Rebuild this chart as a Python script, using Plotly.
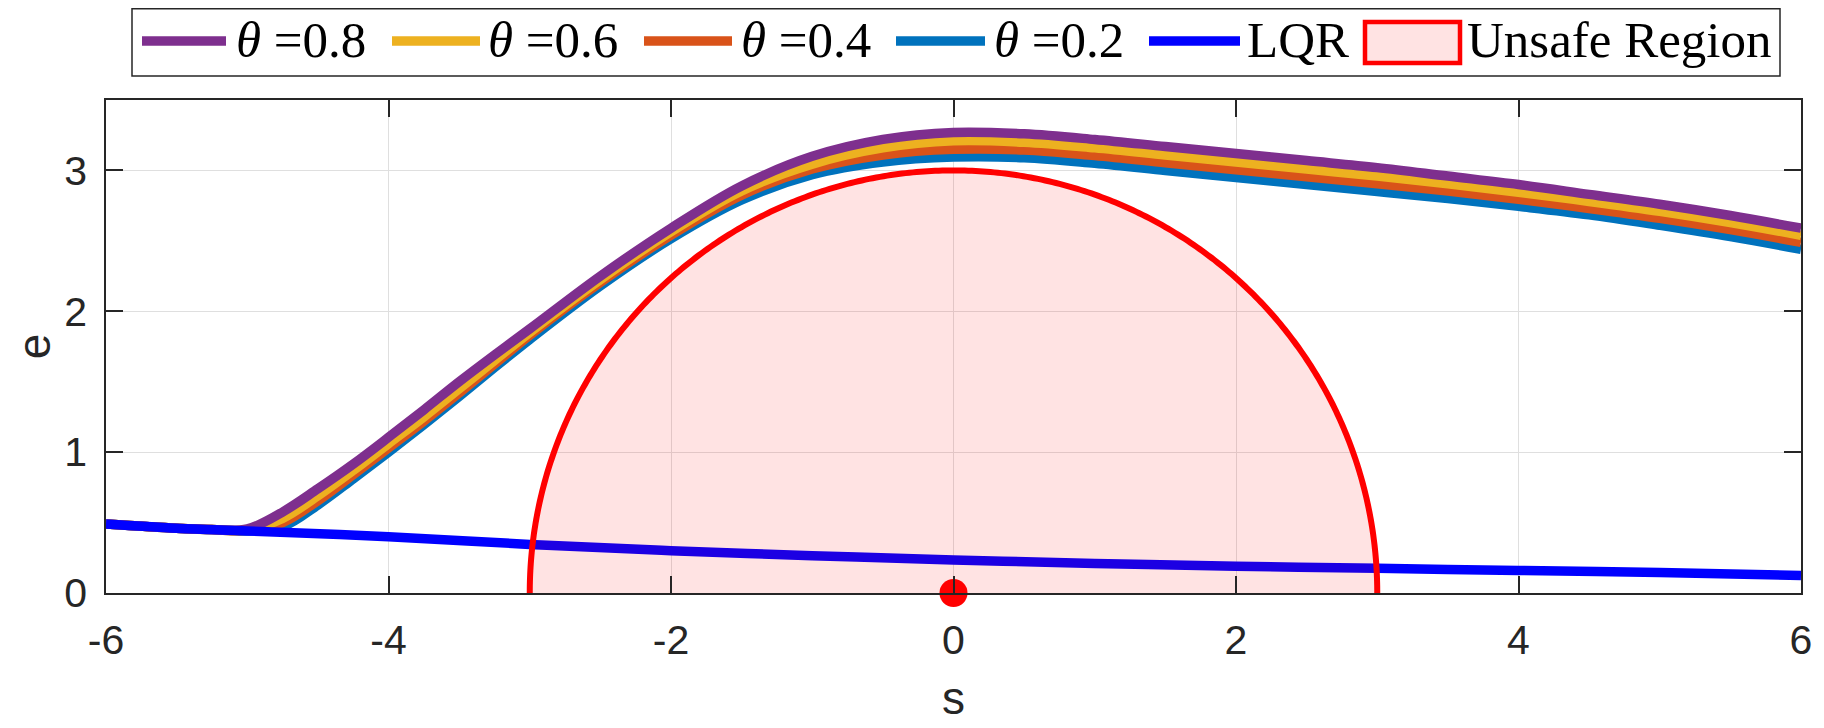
import numpy as np
import plotly.graph_objects as go

# ---------------- data ----------------
s_vals = [-6.0, -5.5, -5.25, -5.0, -4.75, -4.5, -4.25, -4.0, -3.75, -3.5, -3.25, -3.0,
          -2.5, -2.0, -1.5, -1.0, -0.5, 0.0, 0.5, 1.0, 1.5, 2.0, 2.5, 3.0, 3.5, 4.0,
          4.5, 5.0, 5.5, 6.0]

e_theta_08 = [0.49, 0.46, 0.45, 0.455, 0.575, 0.74, 0.915, 1.105, 1.30, 1.50, 1.69, 1.875,
              2.25, 2.59, 2.89, 3.10, 3.22, 3.27, 3.26, 3.22, 3.17, 3.12, 3.07, 3.02, 2.96, 2.90,
              2.83, 2.76, 2.68, 2.59]
e_theta_06 = [0.49, 0.46, 0.45, 0.45, 0.53, 0.69, 0.87, 1.06, 1.25, 1.45, 1.65, 1.85,
              2.225, 2.565, 2.855, 3.045, 3.16, 3.21, 3.20, 3.16, 3.11, 3.06, 3.01, 2.96, 2.905, 2.845,
              2.78, 2.71, 2.63, 2.54]
e_theta_04 = [0.49, 0.46, 0.45, 0.445, 0.50, 0.655, 0.84, 1.03, 1.22, 1.42, 1.625, 1.83,
              2.205, 2.54, 2.825, 3.01, 3.11, 3.15, 3.145, 3.105, 3.055, 3.005, 2.955, 2.905, 2.853, 2.795,
              2.73, 2.66, 2.58, 2.49]
e_theta_02 = [0.49, 0.46, 0.45, 0.44, 0.47, 0.625, 0.81, 1.00, 1.195, 1.395, 1.60, 1.80,
              2.18, 2.515, 2.79, 2.97, 3.06, 3.095, 3.09, 3.05, 3.00, 2.95, 2.90, 2.85, 2.80, 2.745,
              2.685, 2.61, 2.53, 2.44]

s_lqr = [-6, -5.5, -5, -4, -3, -2, -1, 0, 1, 2, 3, 4, 5, 6]
e_lqr = [0.49, 0.46, 0.44, 0.40, 0.345, 0.30, 0.265, 0.235, 0.21, 0.19, 0.175, 0.16, 0.145, 0.125]

unsafe_center = 0.0
unsafe_radius = 3.0
target_s = [0.0]
target_e = [0.0]

x_tick_vals = [-6, -4, -2, 0, 2, 4, 6]
x_tick_text = ["-6", "-4", "-2", "0", "2", "4", "6"]
y_tick_vals = [0, 1, 2, 3]
y_tick_text = ["0", "1", "2", "3"]

theta_names = ["0.8", "0.6", "0.4", "0.2"]
theta_colors = ["#7E2F8E", "#EDB120", "#D95319", "#0072BD"]
theta_series = [e_theta_08, e_theta_06, e_theta_04, e_theta_02]
lqr_color = "#0000FF"
unsafe_color = "#FF0000"
unsafe_fill = "rgba(255,0,0,0.11)"

# ---------------- geometry (figure pixels) ----------------
W, H = 1808, 716
ML, MR, MT, MB = 98, 15, 92, 131
PW, PH = W - ML - MR, H - MT - MB


def pxx(fx):
    return (fx - ML) / PW


def pxy(fy):
    return (H - MB - fy) / PH


# ---------------- figure ----------------
fig = go.Figure()

# draw 0.2 first so that 0.8 ends on top
for name, col, ys in reversed(list(zip(theta_names, theta_colors, theta_series))):
    fig.add_trace(go.Scatter(
        x=s_vals, y=ys, mode="lines", name="θ =" + name,
        line=dict(color=col, width=9.5, shape="spline", smoothing=1.0),
        showlegend=False))

fig.add_trace(go.Scatter(
    x=s_lqr, y=e_lqr, mode="lines", name="LQR",
    line=dict(color=lqr_color, width=9.5, shape="spline", smoothing=1.0),
    showlegend=False))

t = np.linspace(0, np.pi, 361)
fig.add_trace(go.Scatter(
    x=unsafe_center + unsafe_radius * np.cos(t),
    y=unsafe_radius * np.sin(t),
    mode="lines", fill="toself", fillcolor=unsafe_fill,
    line=dict(color=unsafe_color, width=6, simplify=False), name="Unsafe Region",
    showlegend=False))

fig.add_trace(go.Scatter(
    x=target_s, y=target_e, mode="markers",
    marker=dict(color=unsafe_color, size=28, line=dict(width=0)),
    showlegend=False, cliponaxis=False))

axis_common = dict(
    showline=True, linecolor="#262626", linewidth=1.5, mirror="allticks",
    ticks="inside", ticklen=17, tickwidth=1.5, tickcolor="#262626",
    showgrid=True, gridcolor="#dfdfdf", gridwidth=1, zeroline=False,
    tickfont=dict(family="Liberation Sans, Arial", size=41, color="#262626"),
)

fig.update_xaxes(range=[-6, 6], tickmode="array", tickvals=x_tick_vals, ticktext=x_tick_text,
                 ticklabelstandoff=10,
                 title=dict(text="s", font=dict(family="Liberation Sans, Arial", size=46, color="#262626"),
                            standoff=42),
                 **axis_common)
fig.update_yaxes(range=[0, 3.5], tickmode="array", tickvals=y_tick_vals, ticktext=y_tick_text,
                 ticklabelstandoff=9,
                 title=dict(text="e", font=dict(family="Liberation Sans, Arial", size=46, color="#262626"),
                            standoff=0),
                 **axis_common)

# ---------------- custom legend (layout only) ----------------
legend_labels = ["<i>θ</i> =" + n for n in theta_names] + ["LQR", "Unsafe Region"]
legend_line_colors = theta_colors + [lqr_color]
legend_sample_x = [(134, 218), (384, 472), (636, 724), (888, 977), (1141, 1232)]
legend_text_x = [226, 478, 731, 984, 1237, 1457]
legend_box_icon = (1357, 14, 1452, 55)
legend_frame = (124, 0.75, 1772, 68)
legend_mid_y = 33

shapes = []
shapes.append(dict(type="rect", xref="paper", yref="paper",
                   x0=pxx(legend_frame[0]), x1=pxx(legend_frame[2]),
                   y0=pxy(legend_frame[3]), y1=pxy(legend_frame[1]),
                   line=dict(color="#262626", width=1.5), fillcolor="white", layer="above"))
for (xa, xb), col in zip(legend_sample_x, legend_line_colors):
    shapes.append(dict(type="line", xref="paper", yref="paper",
                       x0=pxx(xa), x1=pxx(xb), y0=pxy(legend_mid_y), y1=pxy(legend_mid_y),
                       line=dict(color=col, width=9.5), layer="above"))
bx0, by0, bx1, by1 = legend_box_icon
shapes.append(dict(type="rect", xref="paper", yref="paper",
                   x0=pxx(bx0), x1=pxx(bx1), y0=pxy(by1), y1=pxy(by0),
                   line=dict(color=unsafe_color, width=4.5), fillcolor=unsafe_fill, layer="above"))

annotations = []
for txt, tx in zip(legend_labels, legend_text_x):
    annotations.append(dict(text=txt, xref="paper", yref="paper", x=pxx(tx), y=pxy(legend_mid_y - 1),
                            xanchor="left", yanchor="middle", showarrow=False,
                            font=dict(family="Liberation Serif, Times New Roman", size=51, color="#000000")))

fig.update_layout(
    width=W, height=H,
    margin=dict(l=ML, r=MR, t=MT, b=MB, autoexpand=False),
    plot_bgcolor="white", paper_bgcolor="white",
    showlegend=False,
    shapes=shapes, annotations=annotations,
)

fig.write_html("out.html")
